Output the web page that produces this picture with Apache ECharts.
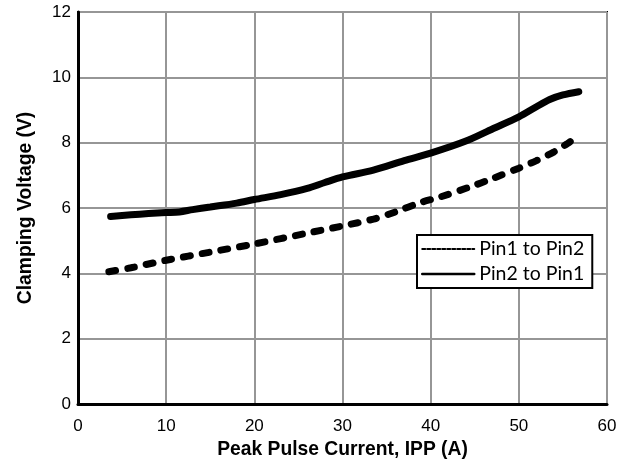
<!DOCTYPE html>
<html>
<head>
<meta charset="utf-8">
<script src="https://cdn.jsdelivr.net/npm/echarts@6/dist/echarts.min.js"></script>
<style>
    html, body { margin: 0; padding: 0; background: #fff; }
    #chart { width: 632px; height: 465px; }
</style>
</head>
<body>
<div id="chart"></div>
<script>
'use strict';

// Peak pulse current (A) / clamping voltage (V)
var pin2to1X = [3.7, 6, 8, 10, 11.5, 13, 15, 18, 20, 23, 26, 28, 30, 33.5, 37, 40, 44, 47, 50, 52, 53.5, 55, 56.8];
var pin2to1Y = [5.74, 5.79, 5.83, 5.86, 5.88, 5.95, 6.03, 6.15, 6.26, 6.41, 6.6, 6.78, 6.95, 7.16, 7.45, 7.68, 8.05, 8.42, 8.79, 9.1, 9.32, 9.46, 9.56];

var pin1to2X = [3.5, 6, 10, 15, 20, 26, 30, 33.5, 36, 39, 41, 44.4, 47, 50, 52, 54, 55.5, 56.8];
var pin1to2Y = [4.05, 4.17, 4.4, 4.65, 4.9, 5.23, 5.45, 5.66, 5.88, 6.18, 6.33, 6.64, 6.9, 7.22, 7.45, 7.72, 7.97, 8.23];

var seriesNames = ['Pin1 to Pin2', 'Pin2 to Pin1'];

function pairs(xs, ys) {
    var out = [];
    for (var i = 0; i < xs.length; i++) {
        out.push([xs[i], ys[i]]);
    }
    return out;
}

var chart = echarts.init(document.getElementById('chart'));

var axisFont = { fontFamily: 'Liberation Sans, Arial, sans-serif', fontSize: 17, color: '#000' };
var titleFont = { fontFamily: 'Liberation Sans, Arial, sans-serif', fontSize: 19.3, fontWeight: 'bold', color: '#000' };

chart.setOption({
    backgroundColor: '#fff',
    animation: false,
    grid: {
        left: 78, top: 12, right: 25, bottom: 61,
        containLabel: false,
        outerBoundsMode: 'none',
        show: true, borderColor: '#000', borderWidth: 2
    },
    legend: {
        orient: 'vertical',
        left: 417, top: 235,
        data: [
            { name: seriesNames[0], lineStyle: { type: [3, 2], width: 2 } },
            { name: seriesNames[1], lineStyle: { width: 2.5 } }
        ],
        borderColor: '#000', borderWidth: 2,
        backgroundColor: '#fff',
        padding: [4, 8, 4, 4],
        itemGap: 5,
        itemWidth: 52, itemHeight: 23,
        itemStyle: { opacity: 0 },
        textStyle: { fontFamily: 'Lato, sans-serif', fontSize: 19.5, color: '#000' }
    },
    xAxis: {
        type: 'value', min: 0, max: 60, interval: 10,
        name: 'Peak Pulse Current, IPP (A)',
        nameLocation: 'middle', nameGap: 31,
        nameTextStyle: titleFont,
        axisLine: { lineStyle: { color: '#000', width: 3 } },
        axisTick: { show: false },
        axisLabel: Object.assign({ margin: 14 }, axisFont),
        splitLine: { lineStyle: { color: '#969696', width: 2 } }
    },
    yAxis: {
        type: 'value', min: 0, max: 12, interval: 2,
        name: 'Clamping Voltage (V)',
        nameLocation: 'middle', nameGap: 43, nameRotate: 90,
        nameTextStyle: titleFont,
        axisLine: { show: true, lineStyle: { color: '#000', width: 3 } },
        axisTick: { show: false },
        axisLabel: Object.assign({ margin: 7 }, axisFont),
        splitLine: { lineStyle: { color: '#969696', width: 2 } }
    },
    series: [
        {
            name: seriesNames[0],
            type: 'line',
            smooth: 0.3,
            symbol: 'none',
            data: pairs(pin1to2X, pin1to2Y),
            lineStyle: { color: '#000', width: 7, type: [7, 12], cap: 'round' },
            itemStyle: { color: '#000' }
        },
        {
            name: seriesNames[1],
            type: 'line',
            smooth: 0.3,
            symbol: 'none',
            data: pairs(pin2to1X, pin2to1Y),
            lineStyle: { color: '#000', width: 7, cap: 'round' },
            itemStyle: { color: '#000' }
        }
    ]
});
</script>
</body>
</html>
